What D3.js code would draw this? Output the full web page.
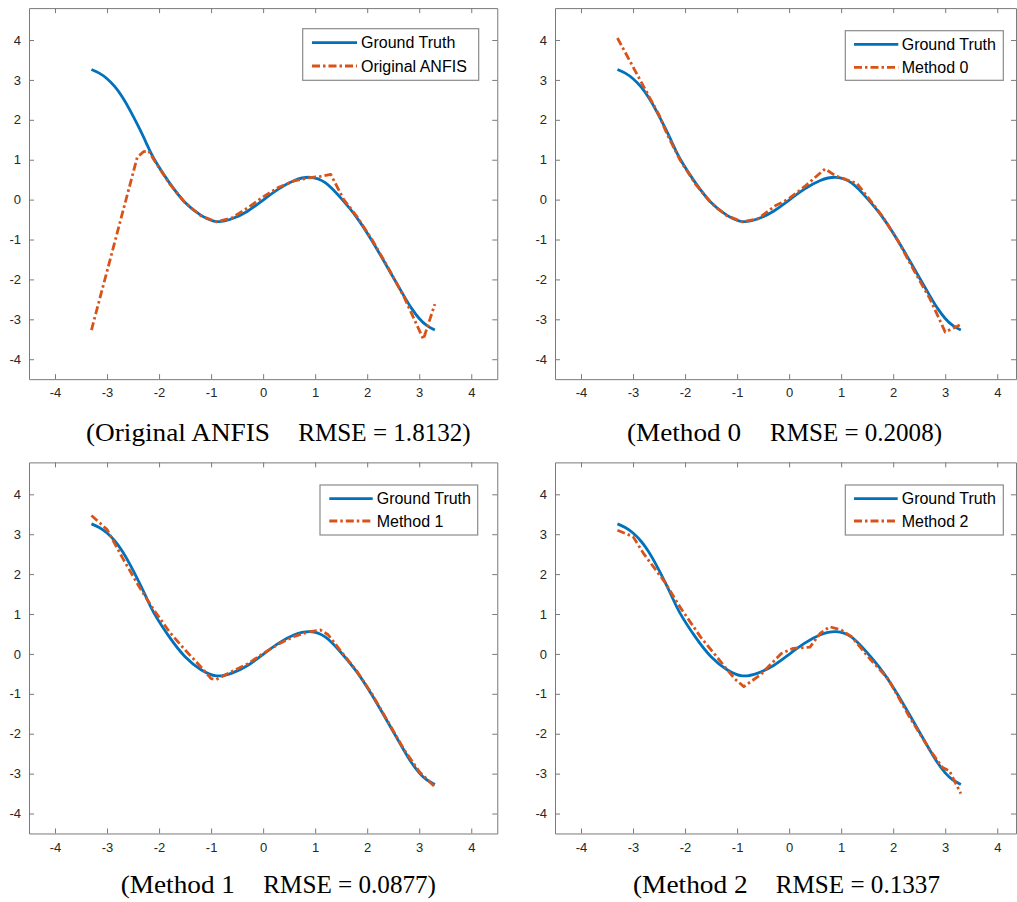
<!DOCTYPE html>
<html>
<head>
<meta charset="utf-8">
<script src="https://cdn.jsdelivr.net/npm/d3@7"></script>
<style>
  html, body { margin: 0; padding: 0; background: #ffffff; }
  svg { display: block; }
</style>
</head>
<body>
<svg id="fig" width="1017" height="902"></svg>
<script>
// ---- data -------------------------------------------------------------
// Ground truth curve (shared by all four panels)
const gtX = [-3.3, -3.15, -3.0, -2.85, -2.7, -2.55, -2.4, -2.25, -2.1, -1.8, -1.5, -1.2, -0.9, -0.6, -0.3, 0.0,
             0.3, 0.6, 0.9, 1.2, 1.5, 1.8, 2.1, 2.4, 2.7, 2.85, 3.0, 3.15, 3.3];
const gtY = [3.26, 3.17, 3.03, 2.83, 2.56, 2.22, 1.84, 1.43, 1.03, 0.42, -0.07, -0.39, -0.55, -0.48, -0.29, -0.01,
             0.27, 0.48, 0.56, 0.42, 0.03, -0.45, -1.05, -1.72, -2.40, -2.72, -2.98, -3.16, -3.27];

// Original ANFIS output
const anfisX = [-3.3, -2.42, -2.3, -2.2, -2.1, -1.8, -1.5, -1.2, -0.9, -0.6, -0.3, 0.0,
                0.3, 0.6, 0.9, 1.1, 1.3, 1.55, 1.8, 2.1, 2.4, 2.7, 3.08, 3.3];
const anfisY = [-3.27, 1.06, 1.20, 1.22, 1.00, 0.40, -0.08, -0.40, -0.56, -0.46, -0.21, 0.07,
                0.31, 0.47, 0.55, 0.58, 0.63, 0.00, -0.42, -1.02, -1.70, -2.42, -3.50, -2.62];

// Method 0 output
const m0X = [-3.3, -2.5, -2.36, -2.1, -1.8, -1.5, -1.2, -0.9, -0.6, -0.25, -0.15, 0.0,
             0.3, 0.69, 0.9, 1.3, 1.5, 1.8, 2.1, 2.4, 2.7, 3.0, 3.28];
const m0Y = [4.05, 2.12, 1.68, 1.00, 0.39, -0.09, -0.40, -0.56, -0.48, -0.14, -0.08, 0.03,
             0.33, 0.77, 0.59, 0.41, 0.08, -0.43, -1.05, -1.78, -2.47, -3.32, -3.14];

// Method 1 output
const m1X = [-3.3, -3.0, -2.7, -2.4, -2.1, -1.8, -1.5, -1.2, -1.0, -0.9, -0.6, -0.3, 0.0,
             0.3, 0.6, 0.9, 1.1, 1.25, 1.5, 1.8, 2.1, 2.4, 2.7, 3.0, 3.3];
const m1Y = [3.47, 3.12, 2.40, 1.72, 1.10, 0.55, 0.10, -0.32, -0.62, -0.64, -0.44, -0.25, 0.01,
             0.25, 0.44, 0.56, 0.60, 0.48, 0.06, -0.43, -1.02, -1.70, -2.38, -2.95, -3.33];

// Method 2 output
const m2X = [-3.3, -3.0, -2.8, -2.4, -2.1, -1.7, -1.3, -1.05, -0.87, -0.55, -0.15, 0.08,
             0.4, 0.6, 0.78, 1.0, 1.2, 1.55, 1.9, 2.3, 2.7, 2.95, 3.08, 3.3];
const m2Y = [3.10, 2.94, 2.52, 1.82, 1.18, 0.42, -0.22, -0.62, -0.82, -0.52, 0.01, 0.14,
             0.17, 0.52, 0.68, 0.60, 0.43, -0.12, -0.62, -1.55, -2.40, -2.85, -2.93, -3.50];

const tickValues = [-4, -3, -2, -1, 0, 1, 2, 3, 4];
const groundTruthLabel = "Ground Truth";
const methodLabels = ["Original ANFIS", "Method 0", "Method 1", "Method 2"];
const captionNames = ["(Original ANFIS", "(Method 0", "(Method 1", "(Method 2"];
const captionRmse = ["RMSE = 1.8132)", "RMSE = 0.2008)", "RMSE = 0.0877)", "RMSE = 0.1337"];
const methodX = [anfisX, m0X, m1X, m2X];
const methodY = [anfisY, m0Y, m1Y, m2Y];

// ---- layout & style ---------------------------------------------------
const BLUE = "#0072BD", ORANGE = "#D95319";
const AXIS_COLOR = "#7a7a7a", TEXT_COLOR = "#262626";
const UNIT_X = 52.03, UNIT_Y = 39.9;
const Y_DOMAIN = [-4.5, 4.8];
const TICK_LEN = 5;

const layout = [
  { left: 29,  top: 8.1,   xMax: 4.5,
    legend: { x: 302.7, y: 28.7, w: 176, h: 51.6, lineX: [312, 357], textX: 361, rowY: [42.7, 66] },
    caption: { y: 441, a: [86, 184], b: [298.3, 172.4] } },
  { left: 555, top: 8.1,   xMax: 4.36,
    legend: { x: 845.3, y: 30.7, w: 158, h: 49.6, lineX: [854, 898.3], textX: 901.7, rowY: [44.3, 67.3] },
    caption: { y: 441, a: [627, 114], b: [770, 172] } },
  { left: 29,  top: 462.4, xMax: 4.5,
    legend: { x: 320, y: 485, w: 157.7, h: 50, lineX: [329.3, 372.7], textX: 376.7, rowY: [498.7, 521] },
    caption: { y: 893, a: [120.7, 114.3], b: [263.3, 172.7] } },
  { left: 555, top: 462.4, xMax: 4.36,
    legend: { x: 845.3, y: 485, w: 158, h: 50, lineX: [854, 897.7], textX: 901.7, rowY: [498.7, 521] },
    caption: { y: 893, a: [633, 114.7], b: [775.7, 164.3] } }
];

const svg = d3.select("#fig");
const DASH = "8,3,2.5,3";

layout.forEach((p, i) => {
  const w = (p.xMax + 4.5) * UNIT_X;
  const h = (Y_DOMAIN[1] - Y_DOMAIN[0]) * UNIT_Y;
  const x = d3.scaleLinear().domain([-4.5, p.xMax]).range([0, w]);
  const y = d3.scaleLinear().domain(Y_DOMAIN).range([h, 0]);

  const g = svg.append("g").attr("transform", `translate(${p.left},${p.top})`);

  g.append("clipPath").attr("id", "clip" + i)
    .append("rect").attr("width", w).attr("height", h);

  // axes box with inward ticks on all four sides
  const fmt = d => String(d);
  const bottom = d3.axisBottom(x).tickValues(tickValues).tickSizeInner(-TICK_LEN).tickSizeOuter(0).tickPadding(9).tickFormat(fmt);
  const top = d3.axisTop(x).tickValues(tickValues).tickSizeInner(-TICK_LEN).tickSizeOuter(0).tickFormat("");
  const left = d3.axisLeft(y).tickValues(tickValues).tickSizeInner(-TICK_LEN).tickSizeOuter(0).tickPadding(8).tickFormat(fmt);
  const right = d3.axisRight(y).tickValues(tickValues).tickSizeInner(-TICK_LEN).tickSizeOuter(0).tickFormat("");

  const axes = [
    g.append("g").attr("transform", `translate(0,${h})`).call(bottom),
    g.append("g").call(top),
    g.append("g").call(left),
    g.append("g").attr("transform", `translate(${w},0)`).call(right)
  ];
  axes.forEach(a => {
    a.selectAll("path.domain").attr("stroke", AXIS_COLOR).attr("stroke-width", 1);
    a.selectAll(".tick line").attr("stroke", AXIS_COLOR).attr("stroke-width", 1);
    a.selectAll(".tick text")
      .attr("fill", TEXT_COLOR)
      .style("font-family", "'Liberation Sans', Arial, sans-serif")
      .style("font-size", "13px");
  });

  // curves
  const plot = g.append("g").attr("clip-path", `url(#clip${i})`);
  const gt = gtX.map((v, k) => [v, gtY[k]]);
  const est = methodX[i].map((v, k) => [v, methodY[i][k]]);

  plot.append("path")
    .attr("d", d3.line().x(d => x(d[0])).y(d => y(d[1])).curve(d3.curveNatural)(gt))
    .attr("fill", "none").attr("stroke", BLUE).attr("stroke-width", 2.8)
    .attr("stroke-linejoin", "round");

  plot.append("path")
    .attr("d", d3.line().x(d => x(d[0])).y(d => y(d[1])).curve(d3.curveLinear)(est))
    .attr("fill", "none").attr("stroke", ORANGE).attr("stroke-width", 2.8)
    .attr("stroke-dasharray", DASH).attr("stroke-linejoin", "round");

  // legend
  const L = p.legend;
  const lg = svg.append("g");
  lg.append("rect").attr("x", L.x).attr("y", L.y).attr("width", L.w).attr("height", L.h)
    .attr("fill", "#ffffff").attr("stroke", "#8a8a8a").attr("stroke-width", 1.2);
  const rows = [
    { label: groundTruthLabel, color: BLUE, dash: null },
    { label: methodLabels[i], color: ORANGE, dash: DASH }
  ];
  rows.forEach((r, k) => {
    const ln = lg.append("line")
      .attr("x1", L.lineX[0]).attr("x2", L.lineX[1])
      .attr("y1", L.rowY[k]).attr("y2", L.rowY[k])
      .attr("stroke", r.color).attr("stroke-width", 2.8);
    if (r.dash) ln.attr("stroke-dasharray", r.dash);
    lg.append("text")
      .attr("x", L.textX).attr("y", L.rowY[k] + 5.6)
      .attr("fill", "#000")
      .style("font-family", "'Liberation Sans', Arial, sans-serif")
      .style("font-size", "16px")
      .text(r.label);
  });

  // caption under the panel
  const C = p.caption;
  const cap = svg.append("g")
    .style("font-family", "'Liberation Serif', 'Times New Roman', serif")
    .style("font-size", "25px").attr("fill", "#000");
  cap.append("text").attr("x", C.a[0]).attr("y", C.y)
    .attr("textLength", C.a[1]).attr("lengthAdjust", "spacingAndGlyphs")
    .text(captionNames[i]);
  cap.append("text").attr("x", C.b[0]).attr("y", C.y)
    .attr("textLength", C.b[1]).attr("lengthAdjust", "spacingAndGlyphs")
    .text(captionRmse[i]);
});
</script>
</body>
</html>
